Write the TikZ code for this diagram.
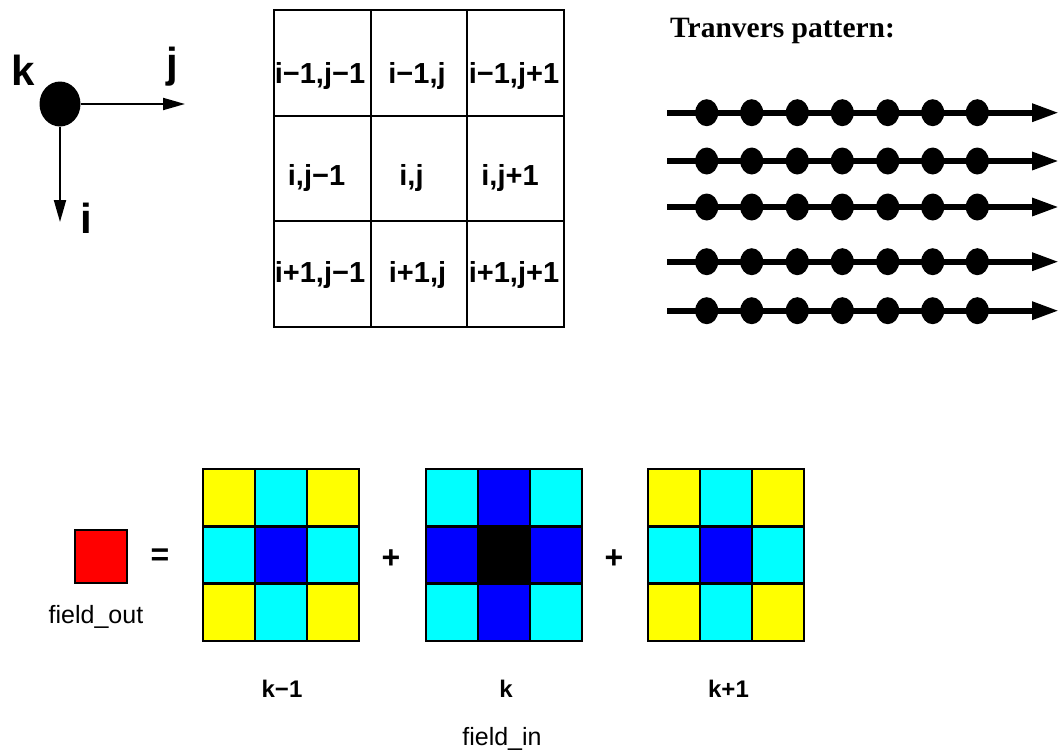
\documentclass[tikz,border=0pt]{standalone}
\usepackage{fontspec}
\setmainfont{Liberation Sans}
\newfontfamily\serifbf{Liberation Serif}
\usetikzlibrary{arrows.meta,shapes.geometric}
\definecolor{cY}{RGB}{255,255,0}
\definecolor{cC}{RGB}{0,255,255}
\definecolor{cB}{RGB}{0,0,255}
\definecolor{cK}{RGB}{0,0,0}
\definecolor{cR}{RGB}{255,0,0}
\begin{document}
\begin{tikzpicture}[x=1pt,y=-1pt,
  axlbl/.style={font=\fontsize{42}{48}\selectfont\bfseries, inner sep=0, anchor=base},
  celltxt/.style={font=\fontsize{29}{34}\selectfont\bfseries, inner sep=0, anchor=base},
  klbl/.style={font=\fontsize{24}{28}\selectfont\bfseries, inner sep=0, anchor=base},
  fld/.style={font=\fontsize{25}{30}\selectfont, inner sep=0, anchor=base},
  op/.style={font=\fontsize{32}{36}\selectfont\bfseries, inner sep=0},
  dotnode/.style={ellipse, fill=black, minimum width=23pt, minimum height=27pt, inner sep=0},
  trav/.style={line width=6pt, -{Triangle[length=27pt,width=17pt]}},
  ax/.style={line width=2pt, -{Triangle[length=22pt,width=12pt]}},
  tcell/.style={draw=black, line width=2pt, minimum width=96.67pt, minimum height=105.67pt, inner sep=0},
  ccell/.style={draw=black, line width=2.5pt, minimum width=52pt, minimum height=57.33pt, inner sep=0},
]
\useasboundingbox (0,0) rectangle (1061,755);

% axes
\node[ellipse, fill=black, minimum width=41pt, minimum height=45pt, inner sep=0] (c) at (60,104) {};
\coordinate (jend) at (185,104);
\coordinate (iend) at (60,222);
\draw[ax] (c) -- (jend);
\draw[ax] (c) -- (iend);
\node[axlbl] (lk) at (23,85) {k};
\node[axlbl] (lj) at (172,77) {j};
\node[axlbl] (li) at (86,233) {i};

% stencil index grid
\foreach \r in {0,1,2}{
  \foreach \cc in {0,1,2}{
    \node[tcell] (t\r\cc) at (274+48.33+\cc*96.67, 10+52.83+\r*105.67) {};
  }
}
\node[celltxt] (a00) at (320,83) {i−1,j−1};
\node[celltxt] (a01) at (417,83) {i−1,j};
\node[celltxt] (a02) at (514,83) {i−1,j+1};
\node[celltxt] (a10) at (316.5,185) {i,j−1};
\node[celltxt] (a11) at (411.5,185) {i,j};
\node[celltxt] (a12) at (510,185) {i,j+1};
\node[celltxt] (a20) at (320,282) {i+1,j−1};
\node[celltxt] (a21) at (417.5,282) {i+1,j};
\node[celltxt] (a22) at (514,282) {i+1,j+1};

% traverse pattern
\node[font=\serifbf\fontsize{29.5}{34}\selectfont\bfseries, inner sep=0, anchor=base west] (tp) at (670,37) {Tranvers pattern:};
\foreach \y [count=\r] in {112.7,161,207,261.7,310.7}{
  \coordinate (s\r) at (667,\y);
  \coordinate (e\r) at (1059,\y);
  \draw[trav] (s\r) -- (e\r);
  \foreach \x [count=\d] in {706.7,751.7,797.3,842.3,887.7,932.7,977.3}{
    \node[dotnode] (d\r-\d) at (\x,\y) {};
  }
}

% field_out
\node[draw=black, line width=2pt, fill=cR, minimum width=52pt, minimum height=53pt, inner sep=0] (fo) at (101,556.5) {};
\node[fld] (fol) at (96,623) {field\_out};
\node[op] (eq) at (160,557) {=};
\node[op] (p1) at (391,559) {+};
\node[op] (p2) at (614,559) {+};

% coloured stencils
\foreach \gx/\gn/\cols in {203/g1/{cY,cC,cY,cC,cB,cC,cY,cC,cY},
                          426/g2/{cC,cB,cC,cB,cK,cB,cC,cB,cC},
                          648/g3/{cY,cC,cY,cC,cB,cC,cY,cC,cY}}{
  \foreach \cl [count=\n from 0] in \cols {
    \pgfmathtruncatemacro\col{mod(\n,3)}
    \pgfmathtruncatemacro\row{div(\n,3)}
    \node[ccell, fill=\cl] (\gn-\n) at (\gx+26+\col*52, 469+28.67+\row*57.33) {};
  }
}
\node[klbl] (k1) at (282,697) {k−1};
\node[klbl] (k2) at (506,697) {k};
\node[klbl] (k3) at (728.5,697) {k+1};
\node[fld] (fin) at (502,745) {field\_in};
\end{tikzpicture}
\end{document}
